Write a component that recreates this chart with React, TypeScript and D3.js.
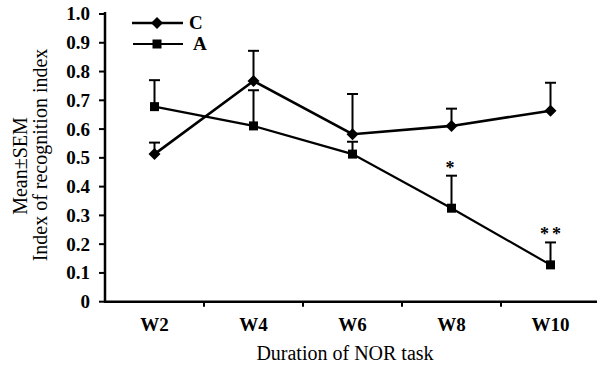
import React from "react";
import * as d3 from "d3";

const categories = ["W2", "W4", "W6", "W8", "W10"];
const seriesC = [0.513, 0.767, 0.582, 0.611, 0.664];
const errC = [0.04, 0.105, 0.14, 0.06, 0.097];
const seriesA = [0.678, 0.611, 0.513, 0.325, 0.128];
const errA = [0.092, 0.124, 0.043, 0.113, 0.078];
const sigA = ["", "", "", "*", "**"];
const yTicks = [0, 0.1, 0.2, 0.3, 0.4, 0.5, 0.6, 0.7, 0.8, 0.9, 1.0];

export default function App() {
  const W = 597, H = 366;
  const x0 = 105, x1 = 600, yTop = 14, yBot = 301.7;
  const x = d3.scaleBand<string>().domain(categories).range([x0, x1]);
  const cx = (c: string) => (x(c) as number) + x.bandwidth() / 2;
  const y = d3.scaleLinear().domain([0, 1]).range([yBot, yTop]);
  const line = d3.line<number>().x((_, i) => cx(categories[i])).y((v) => y(v));
  const font = "'Liberation Serif', 'Times New Roman', Times, serif";
  const ts = { fontFamily: font };
  const diamond = (px: number, py: number, r = 6) =>
    `M${px},${py - r}L${px + r},${py}L${px},${py + r}L${px - r},${py}Z`;
  return (
    <svg width={W} height={H} style={{ position: "absolute", left: 0, top: 0, background: "#fff", fontFamily: font }}>
      {seriesA.map((v, i) => {
        const px = cx(categories[i]);
        return (
          <g key={"ea" + i} stroke="#000" strokeWidth={2}>
            <line x1={px} x2={px} y1={y(v)} y2={y(v + errA[i])} />
            <line x1={px - 5.5} x2={px + 5.5} y1={y(v + errA[i])} y2={y(v + errA[i])} />
          </g>
        );
      })}
      {seriesC.map((v, i) => {
        const px = cx(categories[i]);
        return (
          <g key={"ec" + i} stroke="#000" strokeWidth={2}>
            <line x1={px} x2={px} y1={y(v)} y2={y(v + errC[i])} />
            <line x1={px - 5.5} x2={px + 5.5} y1={y(v + errC[i])} y2={y(v + errC[i])} />
          </g>
        );
      })}
      <path d={line(seriesA) as string} fill="none" stroke="#000" strokeWidth={2.2} />
      <path d={line(seriesC) as string} fill="none" stroke="#000" strokeWidth={2.6} />
      {seriesA.map((v, i) => (
        <rect key={"ma" + i} x={cx(categories[i]) - 4.5} y={y(v) - 4.5} width={9} height={9} fill="#000" />
      ))}
      {seriesC.map((v, i) => (
        <path key={"mc" + i} d={diamond(cx(categories[i]), y(v))} fill="#000" />
      ))}
      {sigA.map((s, i) =>
        s ? (
          <text key={"s" + i} x={cx(categories[i]) + (s.length > 1 ? 1.5 : 0)} y={y(seriesA[i] + errA[i]) - 2} textAnchor="middle"
            fontSize={18} fontWeight="bold" letterSpacing={3} style={ts}>{s}</text>
        ) : null
      )}
      <line x1={x0} x2={x0} y1={yTop - 2} y2={yBot + 1} stroke="#000" strokeWidth={2.5} />
      <line x1={x0 - 1} x2={x1} y1={yBot} y2={yBot} stroke="#000" strokeWidth={2.5} />
      {yTicks.map((t) => (
        <g key={"yt" + t}>
          <line x1={x0 - 6} x2={x0} y1={y(t)} y2={y(t)} stroke="#000" strokeWidth={2} />
          <text x={x0 - 15} y={y(t)} dy="0.34em" textAnchor="end" fontSize={19} fontWeight="bold" style={ts}>
            {t === 0 ? "0" : t.toFixed(1)}
          </text>
        </g>
      ))}
      {categories.map((c) => (
        <g key={"xt" + c}>
          <line x1={(x(c) as number) + x.bandwidth()} x2={(x(c) as number) + x.bandwidth()} y1={yBot} y2={yBot + 5}
            stroke="#000" strokeWidth={2} />
          <text x={cx(c)} y={331} textAnchor="middle" fontSize={19} fontWeight="bold" style={ts}>{c}</text>
        </g>
      ))}
      <text x={345} y={360} textAnchor="middle" fontSize={20} style={ts}>Duration of NOR task</text>
      <text transform="translate(27,166) rotate(-90)" textAnchor="middle" fontSize={20} style={ts}>Mean±SEM</text>
      <text transform="translate(47,155) rotate(-90)" textAnchor="middle" fontSize={20} style={ts}>Index of recognition index</text>
      <line x1={132} x2={183} y1={23} y2={23} stroke="#000" strokeWidth={2.5} />
      <path d={diamond(157, 23)} fill="#000" />
      <text x={189} y={23} dy="0.34em" fontSize={19} fontWeight="bold" style={ts}>C</text>
      <line x1={133} x2={183} y1={44} y2={44} stroke="#000" strokeWidth={2.2} />
      <rect x={152.5} y={39.5} width={9} height={9} fill="#000" />
      <text x={193} y={44} dy="0.34em" fontSize={19} fontWeight="bold" style={ts}>A</text>
    </svg>
  );
}
